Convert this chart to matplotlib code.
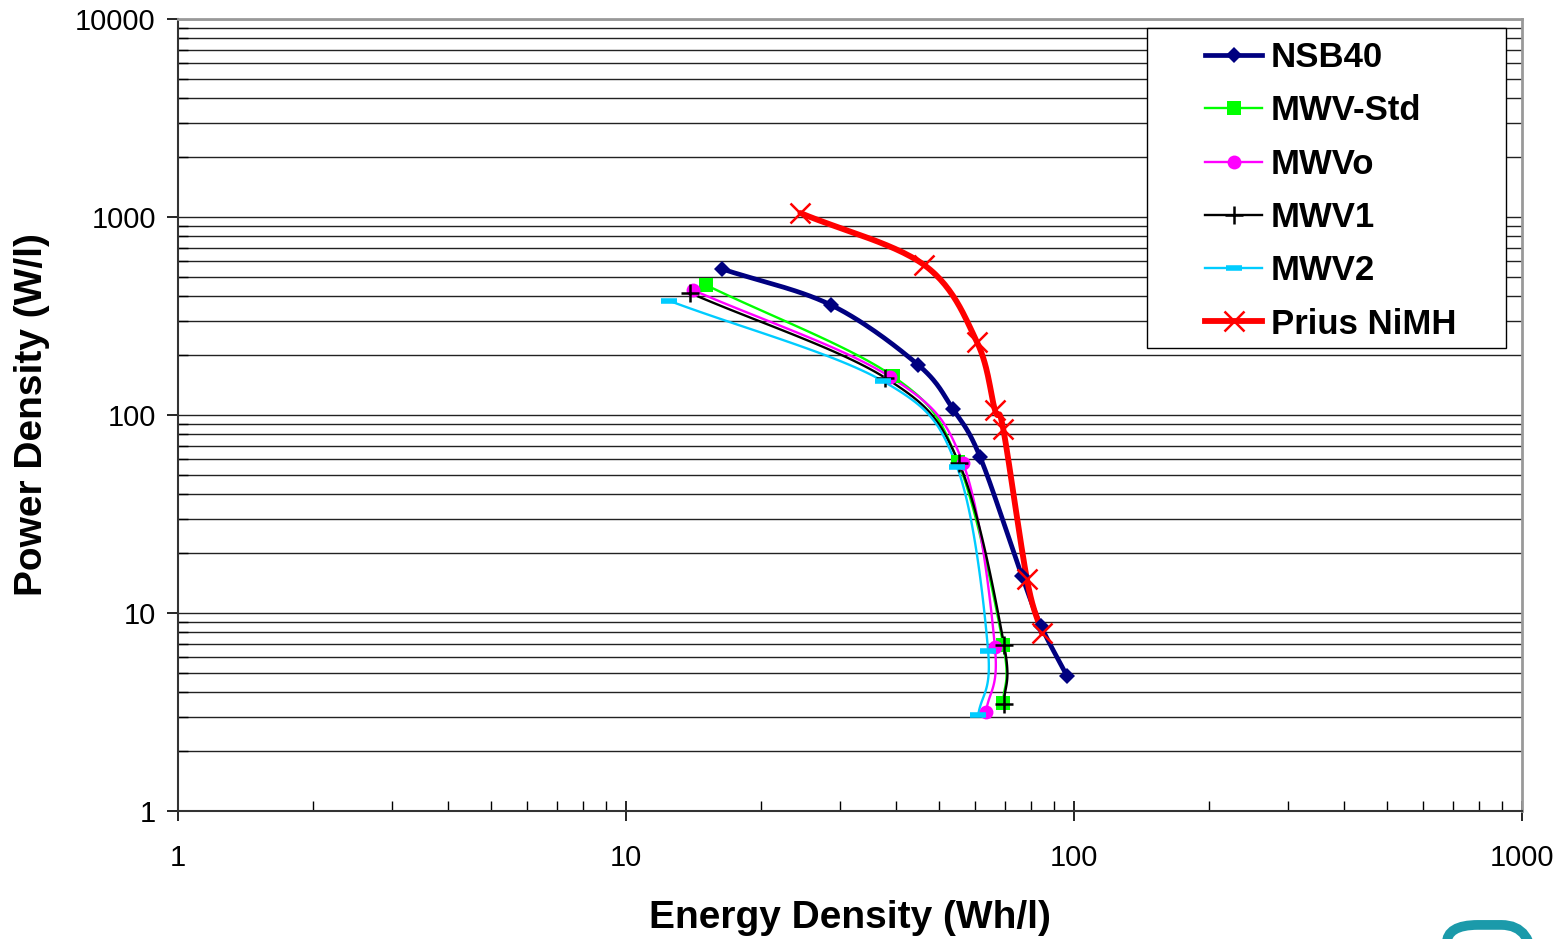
import numpy as np
import matplotlib
matplotlib.use("Agg")
import matplotlib.pyplot as plt
from matplotlib.ticker import LogLocator, NullFormatter, FuncFormatter
from matplotlib.patches import FancyBboxPatch, Rectangle

plt.rcParams['font.family'] = ['Liberation Sans', 'DejaVu Sans']

# Energy density (Wh/l) vs power density (W/l)
nsb40_e = [16.4, 28.7, 44.9, 53.7, 61.7, 76.5, 84.4, 96.5]
nsb40_p = [546, 359, 179, 107, 61.4, 15.4, 8.6, 4.8]

std_e = [15.1, 39.4, 55.1, 69.5, 69.5]
std_p = [453, 157, 57.9, 6.9, 3.5]

mwvo_e = [14.1, 38.8, 56.5, 66.6, 63.6]
mwvo_p = [428, 156, 57.2, 6.7, 3.16]

mwv1_e = [13.9, 37.9, 55.4, 69.8, 69.8]
mwv1_p = [413, 154, 57.0, 6.9, 3.47]

mwv2_e = [12.5, 37.5, 54.8, 64.3, 61.1]
mwv2_p = [377, 148, 54.6, 6.43, 3.05]

prius_e = [24.5, 46.3, 60.7, 66.6, 69.5, 78.5, 84.8]
prius_p = [1047, 572, 234, 106, 85, 14.8, 7.9]


def smooth(xs, ys, n=30):
    """Catmull-Rom through the points in log-log space (like Excel's smoothed lines)."""
    lx, ly = np.log10(xs), np.log10(ys)
    px = np.concatenate([[2 * lx[0] - lx[1]], lx, [2 * lx[-1] - lx[-2]]])
    py = np.concatenate([[2 * ly[0] - ly[1]], ly, [2 * ly[-1] - ly[-2]]])
    outx, outy = [], []
    t = np.linspace(0, 1, n)
    for i in range(1, len(px) - 2):
        for arr, out in ((px, outx), (py, outy)):
            p0, p1, p2, p3 = arr[i - 1], arr[i], arr[i + 1], arr[i + 2]
            m1 = (p2 - p0) / 2
            m2 = (p3 - p1) / 2
            h00 = 2 * t**3 - 3 * t**2 + 1
            h10 = t**3 - 2 * t**2 + t
            h01 = -2 * t**3 + 3 * t**2
            h11 = t**3 - t**2
            out.extend(h00 * p1 + h10 * m1 + h01 * p2 + h11 * m2)
    return 10 ** np.array(outx), 10 ** np.array(outy)


series = [
    ("NSB40", nsb40_e, nsb40_p, dict(color="#000080", lw=3.4, marker="D", ms=8, mew=0)),
    ("MWV-Std", std_e, std_p, dict(color="#00ff00", lw=1.7, marker="s", ms=10, mew=0)),
    ("MWVo", mwvo_e, mwvo_p, dict(color="#ff00ff", lw=1.7, marker="o", ms=10, mew=0)),
    ("MWV1", mwv1_e, mwv1_p, dict(color="black", lw=1.7, marker="+", ms=13, mew=1.8)),
    ("MWV2", mwv2_e, mwv2_p, dict(color="#00ccff", lw=1.7, marker="_", ms=11, mew=4)),
    ("Prius NiMH", prius_e, prius_p, dict(color="#ff0000", lw=4.2, marker="x", ms=15, mew=1.8)),
]

fig = plt.figure(figsize=(15.64, 9.39), dpi=100)
ax = fig.add_axes([0.1138, 0.1363, 0.8594, 0.8435])
ax.set_xscale("log")
ax.set_yscale("log")
ax.set_xlim(1, 1000)
ax.set_ylim(1, 10000)

# horizontal grid lines (major + minor)
ax.yaxis.set_major_locator(LogLocator(base=10, numticks=10))
ax.yaxis.set_minor_locator(LogLocator(base=10, subs=np.arange(2, 10), numticks=20))
ax.grid(which="both", axis="y", color="#222222", lw=1.0)
ax.set_axisbelow(True)

handles = []
for name, xs, ys, st in series:
    sx, sy = smooth(xs, ys)
    ax.plot(sx, sy, color=st["color"], lw=st["lw"], solid_capstyle="round", zorder=3)
    ax.plot(xs, ys, ls="none", marker=st["marker"], ms=st["ms"], color=st["color"],
            mew=st["mew"], zorder=4)
    h, = ax.plot([], [], color=st["color"], lw=st["lw"], marker=st["marker"], ms=st["ms"],
                 mew=st["mew"], label=name)
    handles.append(h)

fmt = FuncFormatter(lambda v, p: f"{v:g}" if v >= 1 else "")
ax.xaxis.set_major_formatter(fmt)
ax.yaxis.set_major_formatter(fmt)
ax.xaxis.set_minor_formatter(NullFormatter())
ax.yaxis.set_minor_formatter(NullFormatter())
ax.xaxis.set_minor_locator(LogLocator(base=10, subs=np.arange(2, 10), numticks=20))

ax.tick_params(which="major", direction="out", length=8, width=1.2, labelsize=21, pad=8)
ax.tick_params(which="minor", direction="in", length=7, width=1.0)
ax.tick_params(axis="x", which="major", direction="inout", length=14, pad=17)

for s in ("left", "bottom"):
    ax.spines[s].set_color("#333333")
    ax.spines[s].set_linewidth(1.5)
for s in ("top", "right"):
    ax.spines[s].set_color("#999999")
    ax.spines[s].set_linewidth(2)

ax.set_xlabel("Energy Density (Wh/l)", fontsize=28, fontweight="bold", labelpad=20)
ax.set_ylabel("Power Density (W/l)", fontsize=28, fontweight="bold", labelpad=18)

# legend box drawn separately so it can have the wide left margin of the original
box = Rectangle((0.7334, 0.6294), 0.2295, 0.3408, transform=fig.transFigure,
                fc="white", ec="black", lw=1.0, zorder=5)
fig.patches.append(box)
leg = fig.legend(handles=handles, loc="upper left", bbox_to_anchor=(0.7705, 0.9563),
                 prop={"weight": "bold", "size": 25}, frameon=False,
                 handlelength=1.65, handletextpad=0.25, labelspacing=0.585,
                 borderpad=0, borderaxespad=0)
leg.set_zorder(6)

# partial logo at the bottom right corner
logo = FancyBboxPatch((0.925, -0.05), 0.055, 0.065, boxstyle="round,pad=0,rounding_size=0.02",
                      transform=fig.transFigure, fill=False, ec="#1b9aaa", lw=7, clip_on=False)
fig.patches.append(logo)

fig.savefig("out.png", dpi=100)
